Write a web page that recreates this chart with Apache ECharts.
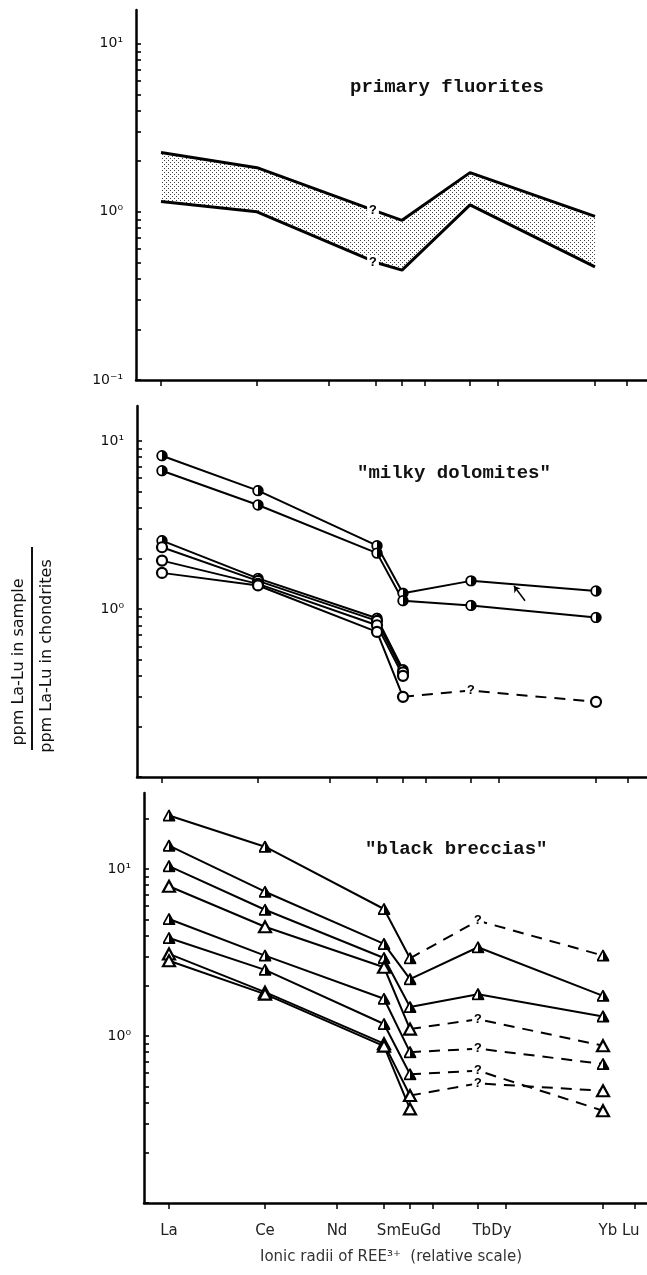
<!DOCTYPE html>
<html><head><meta charset="utf-8">
<script src="https://cdn.jsdelivr.net/npm/echarts@6/dist/echarts.min.js"></script>
<style>html,body{margin:0;padding:0;background:#fff}#c{width:647px;height:1275px}</style>
</head><body><div id="c"></div>
<script>
// ---------- axis data ----------
const elements = ['La','Ce','Nd','Sm','Eu','Gd','Tb','Dy','Yb','Lu'];
const relRadius = [0, 96, 168, 215, 241, 264, 309, 337, 434, 466]; // relative ionic-radius scale
const xLabelTexts = ['La','Ce','Nd','SmEuGd','TbDy','Yb Lu'];
const xLabelMembers = [['La'],['Ce'],['Nd'],['Sm','Eu','Gd'],['Tb','Dy'],['Yb','Lu']];
const yMajorTicks = [0.1, 1, 10];
const yMajorLabels = ['10⁻¹','10⁰','10¹'];
const yMinorTicks = [0.2,0.3,0.4,0.5,0.6,0.7,0.8,0.9,2,3,4,5,6,7,8,9,20];
const plotElems = ['La','Ce','Sm','Eu','Tb','Yb'];

// ---------- panel 1: primary fluorites (band) ----------
const fluoriteUpper = [2.25, 1.83, 1.01, 0.89, 1.71, 0.94];
const fluoriteLower = [1.15, 1.00, 0.50, 0.45, 1.10, 0.47];

// ---------- panel 2: "milky dolomites" ----------
const dolomiteA = [8.17, 5.06, 2.38, 1.24, 1.47, 1.28];
const dolomiteB = [6.65, 4.16, 2.15, 1.12, 1.05, 0.89];
const dolomiteC = [2.55, 1.52, 0.88, 0.435, null, null];
const dolomiteD = [2.33, 1.47, 0.85, 0.42, null, null];
const dolomiteE = [1.94, 1.41, 0.80, 0.40, null, null];
const dolomiteF = [1.64, 1.38, 0.73, 0.30, 0.327, 0.28];
const dolomiteArrow = [[363, 1.12], [352, 1.37]]; // small hand-drawn arrow (rel. radius, ratio)

// ---------- panel 3: "black breccias" ----------
const brecciaA = [20.9, 13.6, 5.76, 2.92, 4.9, 3.03];
const brecciaB = [13.8, 7.31, 3.56, 2.19, 3.40, 1.74];
const brecciaC = [10.4, 5.70, 2.93, 1.49, 1.78, 1.31];
const brecciaD = [7.88, 4.51, 2.58, 1.10, 1.26, 0.875];
const brecciaE = [5.02, 3.03, 1.67, 0.80, 0.84, 0.68];
const brecciaF = [3.86, 2.49, 1.18, 0.59, 0.62, 0.357];
const brecciaG = [3.10, 1.83, 0.90, 0.44, 0.52, 0.47];
const brecciaH = [2.82, 1.78, 0.87, 0.366, null, null];

// ---------- styles (kept apart from data) ----------
const xOf = el => relRadius[elements.indexOf(el)];
const svgURI = s => 'image://data:image/svg+xml;charset=utf-8,' + encodeURIComponent(s);
const HALF_CIRCLE = svgURI('<svg xmlns="http://www.w3.org/2000/svg" width="24" height="24"><circle cx="12" cy="12" r="9.6" fill="#fff" stroke="#000" stroke-width="3.6"/><path d="M12 2.4 A9.6 9.6 0 0 1 12 21.6 Z" fill="#000"/></svg>');
const HALF_TRI = svgURI('<svg xmlns="http://www.w3.org/2000/svg" width="24" height="24"><polygon points="12,2.5 22.5,21.5 1.5,21.5" fill="#fff" stroke="#000" stroke-width="3.2" stroke-linejoin="round"/><polygon points="12,2.5 22.5,21.5 12,21.5" fill="#000"/></svg>');
const markerStyles = {
  halfCircle: { symbol: HALF_CIRCLE, symbolSize: 12, itemStyle: {} },
  openCircle: { symbol: 'circle', symbolSize: 10, itemStyle: { color: '#fff', borderColor: '#000', borderWidth: 2.2 } },
  halfTri: { symbol: HALF_TRI, symbolSize: 13, itemStyle: {} },
  openTri: { symbol: 'triangle', symbolSize: [12, 11], itemStyle: { color: '#fff', borderColor: '#000', borderWidth: 2.2 } }
};

const panels = [
  { left: 136, top: 10, height: 370, yMax: Math.pow(10, 1.2), labels: [0.1, 1, 10], title: 'primary fluorites', tLeft: 350, tTop: 78 },
  { left: 137, top: 406, height: 371, yMax: Math.pow(10, 1.208), labels: [1, 10], title: '"milky dolomites"', tLeft: 357, tTop: 464 },
  { left: 144, top: 793, height: 410, yMax: Math.pow(10, 1.455), labels: [1, 10], title: '"black breccias"', tLeft: 365, tTop: 840 }
];
const X_MIN = -25;

const samples = [
  { p: 1, v: dolomiteA, m: 'halfCircle', arrow: dolomiteArrow },
  { p: 1, v: dolomiteB, m: 'halfCircle' },
  { p: 1, v: dolomiteC, m: 'halfCircle' },
  { p: 1, v: dolomiteD, m: 'openCircle' },
  { p: 1, v: dolomiteE, m: 'openCircle' },
  { p: 1, v: dolomiteF, m: 'openCircle', dashFrom: 3 },
  { p: 2, v: brecciaA, m: 'halfTri', dashFrom: 3 },
  { p: 2, v: brecciaB, m: 'halfTri' },
  { p: 2, v: brecciaC, m: 'halfTri' },
  { p: 2, v: brecciaD, m: 'openTri', dashFrom: 3 },
  { p: 2, v: brecciaE, m: 'halfTri', dashFrom: 3 },
  { p: 2, v: brecciaF, m: 'halfTri', dashFrom: 3, lastMarker: 'openTri' },
  { p: 2, v: brecciaG, m: 'openTri', dashFrom: 3 },
  { p: 2, v: brecciaH, m: 'openTri' }
];

const qLabel = { show: true, formatter: '?', position: 'inside', color: '#000', fontFamily: 'Liberation Mono', fontWeight: 'bold', fontSize: 13, backgroundColor: '#fff', padding: [0, 2] };
const hiddenDot = { symbol: 'circle', symbolSize: 1, itemStyle: { color: 'rgba(0,0,0,0)', borderWidth: 0 } };

// ---------- build axes ----------
const grids = [], xAxes = [], yAxes = [], titles = [];
const labelCenters = xLabelMembers.map(g => g.reduce((s, e) => s + xOf(e), 0) / g.length);
panels.forEach((pn, i) => {
  const width = 647 - pn.left;
  grids.push({ left: pn.left, top: pn.top, width: width, height: pn.height });
  xAxes.push({
    type: 'value', gridIndex: i, min: X_MIN, max: X_MIN + width,
    splitLine: { show: false },
    axisLine: { show: true, onZero: false, lineStyle: { color: '#000', width: 2.5 } },
    axisTick: { show: true, inside: false, length: 6, customValues: relRadius, lineStyle: { color: '#000', width: 1.5 } },
    axisLabel: i === 2 ? {
      show: true, customValues: labelCenters, margin: 21, color: '#222', fontFamily: 'DejaVu Sans', fontSize: 15,
      formatter: v => { const k = labelCenters.findIndex(c => Math.abs(c - v) < 1e-6); return k >= 0 ? xLabelTexts[k] : ''; }
    } : { show: false }
  });
  yAxes.push({
    type: 'log', logBase: 10, gridIndex: i, min: 0.1, max: pn.yMax,
    splitLine: { show: false }, minorTick: { show: false },
    axisLine: { show: true, onZero: false, lineStyle: { color: '#000', width: 2.5 } },
    axisTick: { show: true, inside: true, length: 5, customValues: yMajorTicks.concat(yMinorTicks), lineStyle: { color: '#000', width: 1.6 } },
    axisLabel: {
      show: true, customValues: pn.labels, margin: 13, color: '#111', fontFamily: 'DejaVu Sans', fontSize: 14,
      formatter: v => { const k = yMajorTicks.findIndex(t => Math.abs(Math.log10(t) - Math.log10(v)) < 1e-6); return k >= 0 ? yMajorLabels[k] : ''; }
    }
  });
  titles.push({ text: pn.title, left: pn.tLeft, top: pn.tTop, padding: 0,
    textStyle: { fontFamily: 'Liberation Mono', fontWeight: 'bold', fontSize: 19, color: '#111' } });
});
titles.push({ text: 'Ionic radii of REE³⁺  (relative scale)', left: 260, top: 1250, padding: 0,
  textStyle: { fontFamily: 'DejaVu Sans', fontWeight: 'normal', fontSize: 15, color: '#333' } });

// ---------- series ----------
const series = [];

// stipple pattern for the fluorite band
const pat = document.createElement('canvas');
pat.width = 4; pat.height = 4;
const pctx = pat.getContext('2d');
pctx.fillStyle = '#444';
pctx.fillRect(0, 0, 1, 1); pctx.fillRect(2, 2, 1, 1);

series.push({
  type: 'custom', xAxisIndex: 0, yAxisIndex: 0, z: 1, silent: true,
  data: plotElems.map((e, i) => [xOf(e), fluoriteLower[i], fluoriteUpper[i]]),
  renderItem: (params, api) => {
    if (params.dataIndex !== 0) return null;
    const up = plotElems.map((e, i) => api.coord([xOf(e), fluoriteUpper[i]]));
    const lo = plotElems.map((e, i) => api.coord([xOf(e), fluoriteLower[i]])).reverse();
    return { type: 'polygon', shape: { points: up.concat(lo) }, style: { fill: { image: pat, repeat: 'repeat' }, stroke: null } };
  }
});
[fluoriteUpper, fluoriteLower].forEach(arr => {
  series.push({
    type: 'line', xAxisIndex: 0, yAxisIndex: 0, z: 3, silent: true,
    lineStyle: { color: '#000', width: 3 },
    data: plotElems.map((e, i) => e === 'Sm'
      ? Object.assign({ value: [xOf(e), arr[i]], label: Object.assign({}, qLabel, { offset: [-3, 0] }) }, hiddenDot)
      : { value: [xOf(e), arr[i]], symbol: 'none' })
  });
});

samples.forEach(s => {
  const last = s.v.length - 1;
  const solidEnd = s.dashFrom != null ? s.dashFrom : last;
  const mk = (i, kind) => {
    const ms = markerStyles[kind];
    return { value: [xOf(plotElems[i]), s.v[i]], symbol: ms.symbol, symbolSize: ms.symbolSize, itemStyle: ms.itemStyle };
  };
  const solid = [];
  for (let i = 0; i <= solidEnd; i++) if (s.v[i] != null) solid.push(mk(i, (i === last && s.lastMarker) ? s.lastMarker : s.m));
  const ser = { type: 'line', xAxisIndex: s.p, yAxisIndex: s.p, z: 4, silent: true,
    lineStyle: { color: '#000', width: 2 }, data: solid };
  if (s.arrow) {
    ser.markLine = { silent: true, symbol: ['none', 'arrow'], symbolSize: 6, label: { show: false },
      lineStyle: { color: '#000', width: 1.5, type: 'solid' },
      data: [[{ coord: s.arrow[0] }, { coord: s.arrow[1] }]] };
  }
  series.push(ser);
  if (s.dashFrom != null) {
    const dashed = [];
    for (let i = s.dashFrom; i <= last; i++) {
      if (s.v[i] == null) continue;
      if (i === s.dashFrom) dashed.push({ value: [xOf(plotElems[i]), s.v[i]], symbol: 'none' });
      else if (i === last) dashed.push(mk(i, s.lastMarker || s.m));
      else dashed.push(Object.assign({ value: [xOf(plotElems[i]), s.v[i]], label: qLabel }, hiddenDot));
    }
    series.push({ type: 'line', xAxisIndex: s.p, yAxisIndex: s.p, z: 3, silent: true,
      lineStyle: { color: '#000', width: 2, type: [11, 8] }, data: dashed });
  }
});

const chart = echarts.init(document.getElementById('c'), null, { renderer: 'canvas' });
chart.setOption({
  animation: false,
  backgroundColor: '#fff',
  title: titles,
  grid: grids, xAxis: xAxes, yAxis: yAxes,
  series: series,
  graphic: [
    { type: 'text', x: 19, y: 662, rotation: Math.PI / 2, style: { text: 'ppm La-Lu in sample', fontFamily: 'DejaVu Sans', fontSize: 16, fill: '#111', align: 'center', verticalAlign: 'middle' } },
    { type: 'line', shape: { x1: 32, y1: 547, x2: 32, y2: 750 }, style: { stroke: '#111', lineWidth: 2 } },
    { type: 'text', x: 47, y: 656, rotation: Math.PI / 2, style: { text: 'ppm La-Lu in chondrites', fontFamily: 'DejaVu Sans', fontSize: 16, fill: '#111', align: 'center', verticalAlign: 'middle' } }
  ]
});
</script></body></html>
